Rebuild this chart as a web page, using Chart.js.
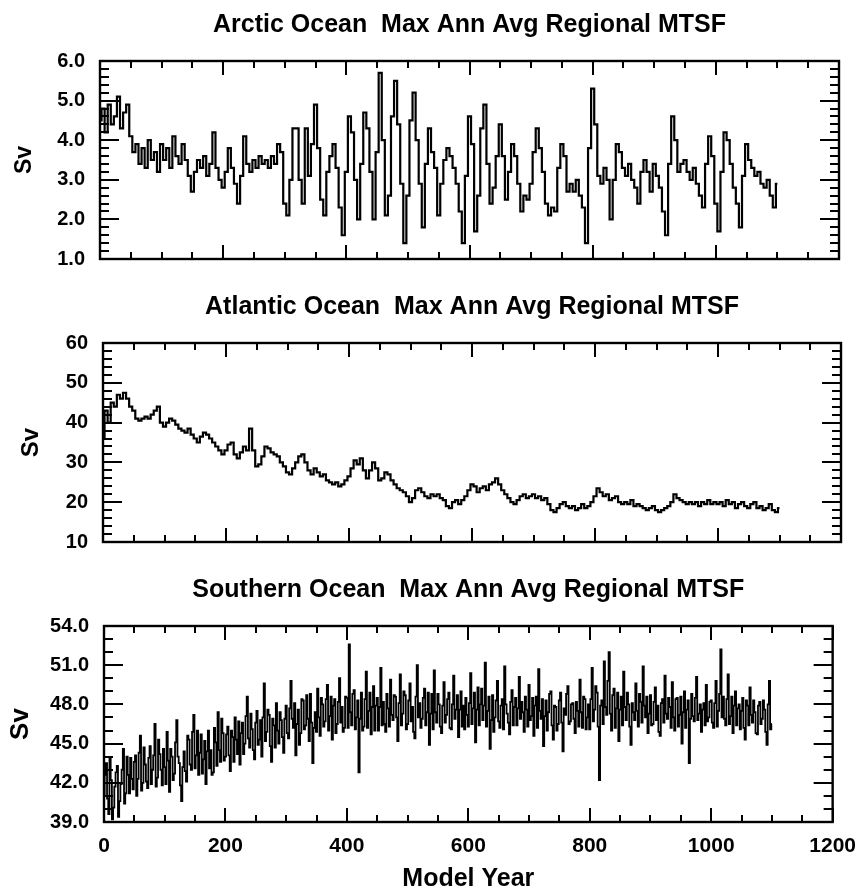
<!DOCTYPE html>
<html>
<head>
<meta charset="utf-8">
<title>Max Ann Avg Regional MTSF</title>
<script src="https://cdn.jsdelivr.net/npm/chart.js@4.4.1/dist/chart.umd.min.js"></script>
<style>
  html, body { margin: 0; padding: 0; background: #fff; }
  #page { position: relative; width: 868px; height: 894px; }
  #page canvas { position: absolute; left: 0; top: 0; }
</style>
</head>
<body>
<div id="page">
  <canvas id="arctic" width="868" height="894"></canvas>
  <canvas id="atlantic" width="868" height="894"></canvas>
  <canvas id="southern" width="868" height="894"></canvas>
</div>
<script>
// Sampling interval (model years) of each series
const arcticStep = 5;
const atlanticStep = 5;
const southernStep = 2;

// Arctic Ocean max annual-average MTSF (Sv), one row per century
const arcticSv = [
  4.5,4.8,4.2,4.9,4.4,4.6,5.1,4.3,4.7,4.9,4.1,3.7,3.9,3.4,3.8,3.3,4.0,3.5,3.7,3.2,
  3.9,3.5,3.8,3.3,4.1,3.6,3.4,3.9,3.5,3.1,2.7,3.2,3.5,3.3,3.6,3.1,3.4,4.2,3.3,3.0,
  2.8,3.2,3.8,3.3,2.9,2.4,3.1,4.1,3.4,3.2,3.5,3.3,3.6,3.4,3.5,3.3,3.6,3.4,3.9,3.7,
  2.4,2.1,3.0,4.3,4.3,3.0,2.4,4.3,3.1,3.9,4.9,3.8,2.5,2.1,3.2,3.6,3.9,3.3,2.3,1.6,
  3.2,4.6,4.2,3.0,2.0,3.4,4.7,4.3,3.2,2.0,3.7,5.7,4.0,2.1,2.6,4.6,5.5,4.4,2.9,1.4,
  2.6,4.5,5.2,4.0,2.9,1.8,3.4,4.3,3.7,3.3,2.1,2.9,3.5,3.8,3.6,3.3,2.9,2.2,1.4,3.1,
  4.6,3.9,1.7,2.6,4.3,4.9,3.4,2.4,2.8,3.6,4.4,3.6,2.5,3.2,3.9,3.6,2.9,2.2,2.6,2.5,
  2.9,3.7,4.3,3.8,3.2,2.4,2.1,2.3,2.2,3.3,3.9,3.6,2.7,2.9,2.7,3.0,2.6,2.3,1.4,3.8,
  5.3,4.4,3.1,2.9,3.3,3.0,2.0,3.0,3.9,3.7,3.3,3.1,3.4,3.0,2.8,2.4,3.2,3.5,3.2,2.7,
  3.4,3.1,2.8,2.2,1.6,3.4,4.6,4.0,3.2,3.4,3.5,3.2,3.0,3.3,2.9,2.6,2.3,3.4,4.1,3.6,
  2.4,1.7,3.2,4.2,4.0,3.4,2.8,2.4,1.8,3.1,3.9,3.5,3.3,3.1,3.2,2.9,2.8,3.0,2.6,2.3,2.9
];

// Atlantic Ocean max annual-average MTSF (Sv)
const atlanticSv = [
  36,43,40,45,44,47,46,47.5,46,44,43,41,40.5,41,41.5,41,42,43,44,40,
  39,40,41,40.5,39.5,38.5,38,37.5,38.5,37,36,35,36.5,37.5,37,36,35,34,33,32,
  33,34.5,35,32,31,32.5,34,33,38.5,33,29,29.5,31.5,34,33.5,32.5,32,31.5,30,29,
  27.5,27,28.5,30,31.5,32,30,28,27,28.5,27.5,26.5,27,25.5,25,24.5,25,24,24.5,25.5,
  26.5,28.5,30.5,29.5,31,28,26,28,30,28.5,25.5,26,27.5,27,25.5,24.5,23.5,23,22.5,21.5,
  20,21,23,23.5,22.5,21.5,21,22,21.5,22,21,20.5,19,18.5,20,20.5,19.5,20.5,21.5,23,
  24.5,24,22.5,23.5,24,23,24.5,25,26,24.5,23,22,21,20,19.5,20.5,21.5,22,21,21.5,
  22,21,21.5,20.5,21,19.5,18,17.5,18.5,19.5,20,19,18.5,19,18,18.5,19.5,18.5,19,20,
  21.5,23.5,22.5,21.5,22,20.5,21,21.5,20,19.5,20,19.5,20.5,19,19.5,19,18.5,18,18.5,19,
  18,17.5,18,18.5,19,20,22,21,20.5,20,19.5,20,19.5,20,19,20,19.5,20.5,19.5,20,
  19.5,20,19,20.5,19.5,20,18.5,19.5,20,19,18.5,19.5,20,18.5,19,18,18.5,19.5,18,17.5,18.5
];

// Southern Ocean max annual-average MTSF (Sv), every second year
const southernSv = [
  41.0,42.6,43.5,40.8,39.6,43.9,42.2,39.2,40.1,41.7,42.8,43.3,39.4,40.6,41.9,43.0,44.6,40.4,41.2,44.0,42.6,41.2,43.9,42.3,41.5,43.6,44.1,41.0,42.3,44.3,45.6,41.4,42.0,44.7,43.4,42.1,41.6,43.9,44.8,41.9,43.0,44.1,46.5,41.7,42.4,45.3,44.2,43.0,41.8,44.6,
  43.2,41.9,45.9,43.7,41.3,44.6,44.0,42.2,42.7,45.1,46.8,44.0,43.5,41.8,40.6,43.2,44.4,42.9,42.1,45.6,45.3,43.4,43.0,45.9,47.2,43.1,44.1,46.0,42.6,44.3,45.7,42.7,43.8,45.2,41.9,44.4,46.0,43.1,44.5,42.6,42.8,46.2,45.1,43.3,47.4,44.5,43.6,46.9,45.8,43.7,
  44.0,45.7,46.3,44.1,42.9,46.0,45.5,43.6,47.0,45.3,44.2,46.7,43.4,45.8,46.6,44.2,45.0,47.1,48.6,45.4,44.7,47.3,46.1,44.5,43.8,46.6,47.5,44.9,45.3,46.8,44.0,47.0,49.6,45.2,45.9,47.6,47.2,44.8,43.6,46.9,46.4,44.7,48.1,46.0,45.0,47.4,46.8,45.5,44.3,46.9,
  47.9,45.8,45.4,47.7,49.8,46.9,46.2,48.1,44.1,46.5,47.6,44.9,45.8,48.4,48.3,46.1,46.4,48.7,46.9,45.2,48.8,46.6,43.5,46.2,47.4,45.9,49.2,47.0,45.6,48.5,48.0,46.3,46.7,48.4,49.5,46.0,47.1,48.6,45.3,47.9,48.4,45.8,46.5,48.2,50.0,46.6,47.8,45.9,46.2,48.6,
  48.5,46.2,52.6,47.4,46.4,48.8,49.1,46.1,47.0,48.3,42.8,46.9,48.9,46.0,46.3,48.4,50.5,46.2,47.5,48.9,45.7,47.8,49.4,46.0,47.9,48.5,46.0,47.8,50.8,46.4,48.2,46.5,45.9,48.8,47.7,46.3,49.9,47.2,46.8,48.7,48.6,47.0,45.2,48.1,50.3,46.4,47.3,49.0,48.7,46.1,
  46.5,48.3,49.6,46.7,47.8,45.9,45.4,48.6,51.0,47.0,48.1,46.2,46.9,48.5,49.2,46.4,47.4,48.9,44.9,47.3,48.8,46.1,50.6,47.4,46.6,48.8,48.0,46.3,45.8,47.9,49.7,46.6,47.2,48.4,48.9,46.2,46.1,48.0,50.2,46.9,47.6,48.7,45.5,47.6,49.0,46.3,47.9,46.1,48.5,47.2,
  46.3,48.1,50.4,46.5,47.7,48.9,45.1,47.6,49.3,46.4,48.0,49.2,46.8,47.9,51.2,46.3,47.5,48.6,44.6,46.8,48.7,45.9,47.0,48.3,49.8,46.7,46.2,47.9,48.4,46.1,50.9,48.0,47.3,46.6,45.7,48.2,49.1,46.4,47.8,48.5,46.4,47.7,50.1,46.9,48.2,47.4,45.9,48.6,47.6,46.3,
  49.5,46.8,47.1,48.5,45.6,47.9,48.6,46.2,50.7,47.5,46.9,48.4,44.8,47.1,48.3,46.0,47.4,48.8,49.0,46.4,45.3,47.9,47.8,46.0,46.5,48.3,48.9,46.6,44.4,47.7,47.2,48.8,49.4,46.5,46.7,48.0,48.1,46.9,45.8,48.2,47.5,46.3,49.9,47.4,46.2,48.6,48.4,46.1,47.0,48.0,
  46.1,48.4,50.8,46.7,47.6,49.4,48.9,46.3,42.2,47.9,48.3,46.5,51.3,47.8,47.2,49.8,52.0,47.3,46.0,48.7,49.2,46.2,47.7,48.9,45.2,47.6,48.6,46.4,50.5,47.8,46.8,48.9,48.0,46.3,44.9,48.1,47.4,46.8,49.6,47.5,46.3,48.8,48.2,46.6,50.9,47.9,47.0,48.6,45.8,47.3,
  48.7,46.4,46.5,48.2,49.3,46.8,47.9,45.9,45.6,48.1,48.4,46.6,50.2,47.3,46.9,48.5,47.8,46.2,49.7,47.0,46.0,48.4,48.5,46.3,47.2,48.6,45.0,47.4,49.0,46.2,47.6,48.3,43.5,46.9,48.8,47.1,46.7,48.5,50.1,46.8,47.3,48.0,45.9,47.6,48.1,46.4,49.5,46.7,47.0,48.2,
  48.3,46.6,46.2,48.1,49.8,46.3,47.5,48.8,52.2,47.0,48.6,46.9,46.4,48.4,50.3,46.5,47.1,48.6,45.8,47.9,49.0,46.4,47.7,48.0,46.1,47.5,48.5,46.2,45.3,48.3,47.9,46.4,49.3,47.2,46.6,48.3,47.4,45.8,45.7,47.9,48.2,46.5,46.9,48.3,47.6,45.9,44.9,48.0,49.8,46.1,46.5
];

const FONT = "'Liberation Sans', Arial, Helvetica, sans-serif";
const PAGE_W = 868;
const PAGE_H = 894;

// pairs each value with its model year
function toPoints(values, step) {
  return values.map((v, i) => ({ x: i * step, y: v }));
}

// frame, inward ticks on all four sides, and the panel heading
const panelFrame = {
  id: "panelFrame",
  afterDatasetsDraw(chart, args, opts) {
    const { ctx, chartArea: a, scales } = chart;
    const xs = scales.x, ys = scales.y;
    ctx.save();
    ctx.strokeStyle = "#000";
    ctx.lineWidth = 2;
    ctx.lineCap = "butt";
    ctx.beginPath();
    // years: minor every 50, major every 200
    for (let v = 0; v <= 1200; v += 50) {
      const px = Math.round(xs.getPixelForValue(v));
      const len = v % 200 === 0 ? 14 : 7;
      ctx.moveTo(px, a.bottom); ctx.lineTo(px, a.bottom - len);
      ctx.moveTo(px, a.top); ctx.lineTo(px, a.top + len);
    }
    const n = Math.round((ys.max - ys.min) / opts.minor);
    for (let i = 0; i <= n; i++) {
      const py = Math.round(ys.getPixelForValue(ys.min + i * opts.minor));
      const len = i % opts.perMajor === 0 ? 19 : 9;
      ctx.moveTo(a.left, py); ctx.lineTo(a.left + len, py);
      ctx.moveTo(a.right, py); ctx.lineTo(a.right - len, py);
    }
    ctx.stroke();
    ctx.lineWidth = 2.4;
    ctx.strokeRect(a.left, a.top, a.right - a.left, a.bottom - a.top);

    ctx.fillStyle = "#000";
    ctx.font = "bold 25px " + FONT;
    ctx.textAlign = "center";
    ctx.textBaseline = "alphabetic";
    ctx.fillText(opts.heading, (a.left + a.right) / 2, a.top - 29);
    ctx.restore();
  }
};

function makePanel(id, p) {
  new Chart(document.getElementById(id), {
    type: "line",
    data: {
      datasets: [{
        data: toPoints(p.values, p.step),
        borderColor: "#000",
        borderWidth: p.lineWidth,
        pointRadius: 0,
        stepped: "middle",
        fill: false
      }]
    },
    options: {
      responsive: false,
      animation: false,
      events: [],
      layout: { padding: { top: p.top, right: PAGE_W - p.right, bottom: 0, left: 0 } },
      plugins: {
        legend: { display: false },
        tooltip: { enabled: false },
        panelFrame: { heading: p.heading, minor: p.minor, perMajor: p.perMajor }
      },
      scales: {
        x: {
          type: "linear",
          min: 0,
          max: 1200,
          grid: { display: false, drawTicks: false },
          border: { display: false },
          ticks: {
            display: p.showYears,
            stepSize: 200,
            autoSkip: false,
            maxRotation: 0,
            padding: 12,
            color: "#000",
            font: { family: FONT, size: 21, weight: "bold" },
            callback: (v) => String(v)
          },
          title: {
            display: p.showYears,
            text: "Model Year",
            color: "#000",
            padding: { top: 0, bottom: 0 },
            font: { family: FONT, size: 25, weight: "bold" }
          },
          afterFit(scale) { scale.height = PAGE_H - p.bottom; }
        },
        y: {
          min: p.yMin,
          max: p.yMax,
          grid: { display: false, drawTicks: false },
          border: { display: false },
          ticks: {
            stepSize: p.yStep,
            padding: 15,
            color: "#000",
            font: { family: FONT, size: 20, weight: "bold" },
            callback: (v) => v.toFixed(p.decimals)
          },
          title: {
            display: true,
            text: "Sv",
            color: "#000",
            padding: { top: p.svPad, bottom: 0 },
            font: { family: FONT, size: p.svSize, weight: "bold" }
          },
          afterFit(scale) { scale.width = p.left; }
        }
      }
    },
    plugins: [panelFrame]
  });
}

makePanel("arctic", {
  heading: "Arctic Ocean  Max Ann Avg Regional MTSF",
  values: arcticSv, step: arcticStep, lineWidth: 2.2,
  left: 100, right: 839, top: 61, bottom: 259,
  yMin: 1, yMax: 6, yStep: 1, minor: 0.2, perMajor: 5, decimals: 1,
  svSize: 23, svPad: 11, showYears: false
});

makePanel("atlantic", {
  heading: "Atlantic Ocean  Max Ann Avg Regional MTSF",
  values: atlanticSv, step: atlanticStep, lineWidth: 2.2,
  left: 103, right: 841, top: 343, bottom: 542,
  yMin: 10, yMax: 60, yStep: 10, minor: 2, perMajor: 5, decimals: 0,
  svSize: 24, svPad: 17, showYears: false
});

makePanel("southern", {
  heading: "Southern Ocean  Max Ann Avg Regional MTSF",
  values: southernSv, step: southernStep, lineWidth: 1.8,
  left: 104, right: 842, top: 626, bottom: 822,
  yMin: 39, yMax: 54, yStep: 3, minor: 1, perMajor: 3, decimals: 1,
  svSize: 26, svPad: 5, showYears: true
});
</script>
</body>
</html>
